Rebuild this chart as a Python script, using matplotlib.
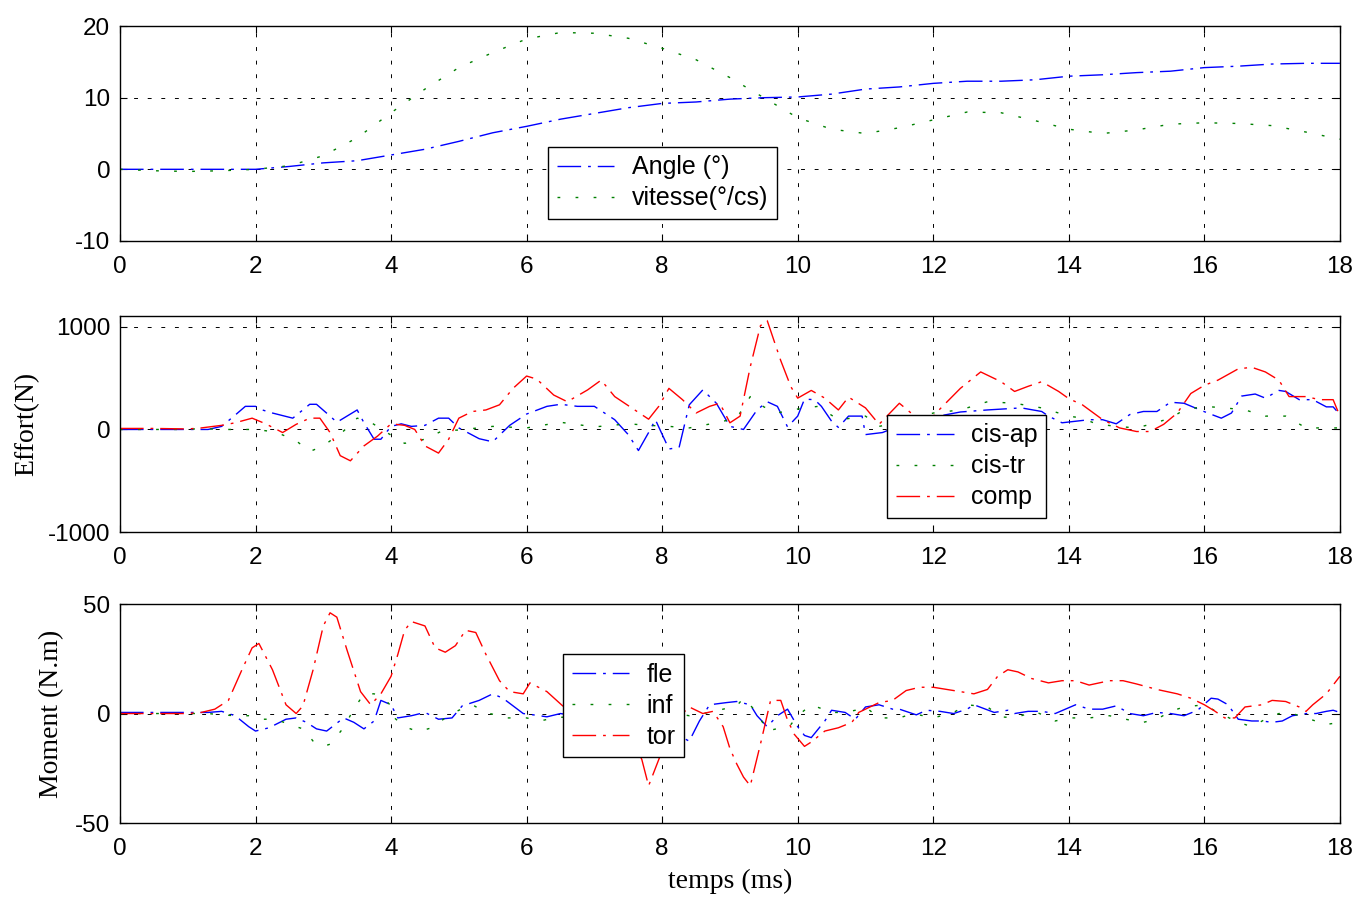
import numpy as np
from matplotlib import pyplot as plt

# --- top panel: angle and speed, sampled every 0.5 ms
t_top = np.arange(0, 18.01, 0.5)
angle = [0, 0, 0, 0, 0, 0.4, 0.9, 1.2, 2.0, 2.8, 3.9, 5.1, 6.0, 7.0, 7.8, 8.6, 9.2, 9.4, 9.8,
         10.0, 10.1, 10.5, 11.2, 11.5, 12.0, 12.3, 12.3, 12.5, 13.0, 13.2, 13.5, 13.7, 14.2,
         14.4, 14.7, 14.8, 14.8]
vitesse = [0, -0.2, -0.3, -0.2, 0, 0.5, 1.9, 4.4, 7.9, 11.2, 14.2, 16.3, 18.2, 19.1, 19.0,
           18.3, 16.9, 15.3, 12.8, 10.0, 7.2, 5.6, 5.0, 5.8, 6.9, 8.0, 7.9, 6.8, 5.6, 5.0,
           5.5, 6.3, 6.5, 6.4, 6.1, 5.2, 4.2]

# --- middle panel: forces (N), (time ms, value)
cis_ap = np.array([
    (0, 0), (0.5, 0), (1, 0), (1.3, 0), (1.5, 30), (1.7, 140), (1.85, 225), (2.0, 225),
    (2.1, 190), (2.25, 160), (2.55, 110), (2.8, 245), (2.9, 245), (3.1, 130), (3.2, 70),
    (3.5, 190), (3.6, 65), (3.75, -95), (3.85, -95), (4.0, 30), (4.15, 55), (4.3, 30),
    (4.5, 40), (4.7, 110), (4.85, 110), (5.0, 15), (5.3, -90), (5.5, -120), (5.75, 40),
    (6.0, 150), (6.3, 225), (6.5, 245), (6.75, 225), (7.0, 225), (7.3, 95), (7.5, -50),
    (7.65, -205), (7.8, -30), (7.9, 95), (8.1, -190), (8.25, -175), (8.4, 240), (8.6, 385),
    (8.8, 255), (9.0, 30), (9.2, 0), (9.4, 190), (9.55, 270), (9.7, 225), (9.85, 25),
    (10.0, 130), (10.1, 295), (10.25, 290), (10.35, 225), (10.5, 80), (10.6, 20),
    (10.75, 130), (10.95, 130), (11.0, -50), (11.25, -30), (11.6, 60), (12.0, 120),
    (12.4, 170), (12.8, 190), (13.3, 210), (13.6, 175), (13.7, 130), (13.9, 65), (14.1, 80),
    (14.3, 95), (14.5, 95), (14.7, 55), (14.9, 145), (15.1, 175), (15.3, 175), (15.5, 265),
    (15.7, 255), (15.9, 200), (16.05, 160), (16.25, 110), (16.4, 160), (16.55, 325),
    (16.75, 345), (16.9, 305), (17.1, 380), (17.2, 370), (17.4, 290), (17.6, 290),
    (17.8, 220), (17.9, 220), (18.0, 145)])
cis_tr = np.array([
    (0, 0), (0.5, 0), (1.0, 0), (1.2, 10), (1.5, 0), (2.0, 0), (2.3, -25), (2.6, -110),
    (2.8, -215), (3.0, -160), (3.3, -15), (3.5, 110), (3.7, 70), (3.9, -15), (4.2, -135),
    (4.5, -95), (4.75, -15), (5.0, -5), (5.5, 30), (6.0, 15), (6.5, 70), (7.0, 25),
    (7.5, 55), (7.8, 40), (8.1, 30), (8.4, 15), (8.8, 65), (9.1, 110), (9.3, 320),
    (9.5, 220), (9.7, 160), (9.9, 190), (10.3, 225), (10.6, 95), (10.8, 110), (11.0, 130),
    (11.2, 30), (11.6, 80), (12.0, 160), (12.4, 190), (12.8, 270), (13.2, 255), (13.6, 210),
    (14.0, 130), (14.2, 110), (14.4, 55), (14.7, 30), (15.0, 15), (15.2, 50), (15.5, 110),
    (15.7, 190), (16.0, 225), (16.3, 210), (16.6, 190), (16.9, 130), (17.2, 130),
    (17.5, 15), (18.0, 15)])
comp = np.array([
    (0, 10), (0.5, 10), (1.0, 5), (1.2, 15), (1.5, 40), (1.7, 65), (1.95, 110), (2.15, 55),
    (2.4, -30), (2.6, 50), (2.8, 110), (2.95, 110), (3.1, -30), (3.25, -255), (3.4, -305),
    (3.6, -160), (3.8, -65), (4.0, 55), (4.2, 40), (4.35, 0), (4.5, -160), (4.7, -230),
    (4.85, -95), (5.0, 110), (5.2, 175), (5.4, 190), (5.6, 240), (5.8, 400), (6.0, 520),
    (6.15, 490), (6.4, 335), (6.6, 270), (6.9, 385), (7.1, 480), (7.3, 320), (7.55, 210),
    (7.8, 100), (7.95, 225), (8.1, 400), (8.3, 290), (8.5, 160), (8.7, 225), (8.85, 255),
    (9.0, 65), (9.15, 130), (9.3, 610), (9.45, 1010), (9.55, 1060), (9.75, 670),
    (9.9, 415), (10.0, 305), (10.2, 380), (10.4, 305), (10.6, 190), (10.75, 315),
    (11.0, 210), (11.2, 50), (11.5, 255), (11.7, 145), (11.9, 60), (12.1, 200), (12.4, 400),
    (12.7, 560), (13.0, 465), (13.2, 370), (13.4, 420), (13.6, 465), (13.85, 370),
    (14.0, 300), (14.2, 240), (14.5, 95), (14.75, 15), (15.0, -20), (15.2, -20), (15.4, 50),
    (15.6, 160), (15.8, 350), (16.0, 430), (16.2, 480), (16.5, 590), (16.7, 605),
    (16.9, 560), (17.1, 480), (17.25, 320), (17.5, 320), (17.7, 290), (17.9, 290),
    (18.0, 130)])

# --- bottom panel: moments (N.m)
fle = np.array([
    (0, 0.5), (0.5, 0.5), (1.0, 0.5), (1.3, 0.5), (1.5, 1), (1.7, -1), (1.9, -6), (2.0, -8),
    (2.2, -6.5), (2.45, -2.6), (2.6, -2), (2.75, -4), (2.9, -7), (3.05, -8), (3.3, -2),
    (3.45, -4), (3.6, -7), (3.75, -3.4), (3.85, 6), (4.0, 4), (4.1, -2), (4.3, -1),
    (4.5, 0.5), (4.7, -2.6), (4.9, -2), (5.05, 3.5), (5.3, 6), (5.5, 9), (5.65, 7),
    (5.8, 3.5), (5.95, 0), (6.1, -0.6), (6.3, -1.5), (6.5, 0), (6.9, -2), (7.3, 1),
    (7.7, -3), (8.0, -6), (8.3, -11), (8.4, -12.6), (8.55, -3.4), (8.7, 4), (8.95, 5),
    (9.1, 5.5), (9.3, 4), (9.4, -1), (9.55, -6), (9.7, -1), (9.85, 2), (10.0, -6),
    (10.1, -10), (10.2, -11), (10.4, -3.4), (10.5, 1.5), (10.7, 0.5), (10.85, -2.6),
    (11.0, 3), (11.2, 4), (11.4, 2), (11.5, 2), (11.75, -0.6), (11.9, 1.5), (12.1, 1),
    (12.3, 0), (12.5, 2), (12.6, 4), (12.9, 0.5), (13.1, 1.5), (13.2, 0), (13.4, 1),
    (13.6, 1), (13.8, 0), (13.95, 2), (14.1, 4), (14.3, 2), (14.5, 2), (14.7, 3.5),
    (14.9, 0), (15.1, -1), (15.3, 0.5), (15.5, 0), (15.7, -1), (15.9, 1.5), (16.1, 7),
    (16.2, 6.6), (16.35, 4), (16.5, -2.6), (16.7, -3.4), (16.85, -3.4), (17.0, -4),
    (17.15, -3.4), (17.3, -1), (17.5, 0), (17.65, 0), (17.8, 1), (17.9, 1.5), (18.0, 0.5)])
inf = np.array([
    (0, 0), (0.5, 0), (1.0, 0), (1.3, 0), (1.5, -0.6), (1.7, -1), (1.9, -1), (2.1, -2.6),
    (2.3, -2.6), (2.5, -5), (2.7, -7), (2.85, -12.6), (3.0, -15), (3.1, -14), (3.3, -6.5),
    (3.45, 2), (3.6, 9), (3.75, 9), (3.9, 6.6), (4.0, 3.5), (4.05, -2), (4.2, -6),
    (4.4, -8.3), (4.6, -6.5), (4.8, -2), (5.0, 1.5), (5.2, 4), (5.4, 0.5), (5.7, -2),
    (6.0, -2), (6.2, -3.4), (6.4, -2), (6.8, -1), (7.2, 1), (7.6, 2), (8.0, 1), (8.4, -1),
    (8.7, 0.5), (8.9, 2), (9.1, 3.5), (9.2, 7), (9.4, 0.5), (9.55, -8), (9.75, -6.5),
    (9.9, -5), (10.0, -1), (10.2, 4), (10.5, 0.5), (10.7, 0.5), (10.85, 1.5), (11.0, 3),
    (11.2, -2), (11.5, -2), (11.7, 0), (12.0, -2), (12.3, 0.5), (12.5, 4), (12.8, 3),
    (13.0, -1.5), (13.2, -2), (13.5, 1), (13.8, -3.4), (14.0, -2), (14.3, -2), (14.6, -1),
    (14.9, -3), (15.1, -4), (15.3, -2.6), (15.5, 1), (15.7, 3), (16.0, 4), (16.2, 0.5),
    (16.5, -4), (16.7, -6), (16.9, -2.6), (17.1, 0), (17.3, 0), (17.5, -2), (17.8, -5),
    (18.0, -4)])
tor = np.array([
    (0, 0), (0.5, 0), (1.0, 0), (1.2, 0.5), (1.4, 2), (1.6, 6), (1.8, 20), (1.95, 30),
    (2.05, 32), (2.25, 20), (2.45, 4), (2.6, 0), (2.7, 3.5), (2.85, 20), (3.0, 40),
    (3.1, 46), (3.2, 44), (3.35, 29), (3.55, 10), (3.7, 4), (3.85, 9), (4.0, 17), (4.1, 27),
    (4.2, 38), (4.3, 42), (4.5, 40), (4.65, 30), (4.8, 28), (4.95, 31), (5.1, 38),
    (5.25, 37), (5.4, 27), (5.6, 15), (5.75, 10), (5.95, 9), (6.05, 14), (6.3, 10),
    (6.55, 3), (6.9, -2), (7.3, -6), (7.6, -14), (7.7, -21), (7.8, -33), (7.9, -25),
    (8.0, -17), (8.2, -3), (8.4, 3), (8.6, 0), (8.75, 1), (8.9, -6), (9.0, -16), (9.1, -23),
    (9.2, -29), (9.3, -33), (9.45, -14), (9.6, 6), (9.75, 6), (9.85, -3), (9.95, -9.5),
    (10.1, -15), (10.2, -13), (10.4, -8), (10.6, -6.5), (10.8, -4), (10.9, 0.5), (11.2, 5),
    (11.4, 6), (11.6, 10.5), (11.8, 12), (12.0, 12), (12.2, 11), (12.4, 10), (12.6, 9),
    (12.8, 11), (12.95, 17), (13.1, 20), (13.25, 19), (13.45, 16), (13.7, 14), (13.9, 15),
    (14.1, 15), (14.3, 13), (14.6, 15), (14.8, 15), (15.0, 13.5), (15.3, 11), (15.6, 9),
    (15.8, 7), (16.0, 4), (16.15, 1.2), (16.3, -2), (16.45, -2), (16.6, 3), (16.85, 4),
    (17.0, 6), (17.2, 5.5), (17.4, 3), (17.5, 1), (17.6, 4), (17.8, 9), (18.0, 17)])

x_ticks = np.arange(0, 19, 2)

# matlab-ish line styles
DASHDOT = (0, (17, 5, 2, 5))
DOTTED = (0, (2, 11))
GRID = (0, (4, 10))

plt.rcParams['font.family'] = ['Liberation Sans', 'DejaVu Sans']
plt.rcParams['axes.unicode_minus'] = False
SERIF = 'Liberation Serif'

fig = plt.figure(figsize=(13.57, 8.99), dpi=100)
ax1 = fig.add_axes([0.0884, 0.732, 0.899, 0.239])
ax2 = fig.add_axes([0.0884, 0.408, 0.899, 0.240])
ax3 = fig.add_axes([0.0884, 0.0845, 0.899, 0.2436])


def style(ax, ylim, yticks):
    ax.set_xlim(0, 18)
    ax.set_ylim(*ylim)
    ax.set_xticks(x_ticks)
    ax.set_yticks(yticks)
    ax.tick_params(direction='in', top=True, right=True, labelsize=17.5, length=5, width=0.8)
    ax.tick_params(axis='x', pad=11)
    ax.tick_params(axis='y', pad=7)
    ax.grid(True, color='black', linestyle=GRID, linewidth=0.7)
    for s in ax.spines.values():
        s.set_linewidth(1.0)


def legend(ax, loc_xy):
    leg = ax.legend(loc='lower left', bbox_to_anchor=loc_xy, fontsize=18, fancybox=False,
                    framealpha=1, edgecolor='black', handlelength=2.3, handletextpad=0.7,
                    borderpad=0.35, labelspacing=0.28, borderaxespad=0)
    leg.get_frame().set_linewidth(1.0)


ax1.plot(t_top, angle, color='blue', lw=1, linestyle=DASHDOT, label='Angle (°)')
ax1.plot(t_top, vitesse, color='green', lw=1, linestyle=DOTTED, label='vitesse(°/cs)')
style(ax1, (-10, 20), [-10, 0, 10, 20])
legend(ax1, (0.351, 0.102))

ax2.plot(cis_ap[:, 0], cis_ap[:, 1], color='blue', lw=1, linestyle=DASHDOT, label='cis-ap')
ax2.plot(cis_tr[:, 0], cis_tr[:, 1], color='green', lw=1, linestyle=DOTTED, label='cis-tr')
ax2.plot(comp[:, 0], comp[:, 1], color='red', lw=1, linestyle=DASHDOT, label='comp')
style(ax2, (-1000, 1100), [-1000, 0, 1000])
ax2.set_ylabel('Effort(N)', family=SERIF, fontsize=20, labelpad=6)
legend(ax2, (0.629, 0.065))

ax3.plot(fle[:, 0], fle[:, 1], color='blue', lw=1, linestyle=DASHDOT, label='fle')
ax3.plot(inf[:, 0], inf[:, 1], color='green', lw=1, linestyle=DOTTED, label='inf')
ax3.plot(tor[:, 0], tor[:, 1], color='red', lw=1, linestyle=DASHDOT, label='tor')
style(ax3, (-50, 50), [-50, 0, 50])
ax3.set_ylabel('Moment (N.m)', family=SERIF, fontsize=20, labelpad=8)
ax3.set_xlabel('temps (ms)', family=SERIF, fontsize=20, labelpad=6)
legend(ax3, (0.363, 0.30))

plt.savefig('out.png', dpi=100)
